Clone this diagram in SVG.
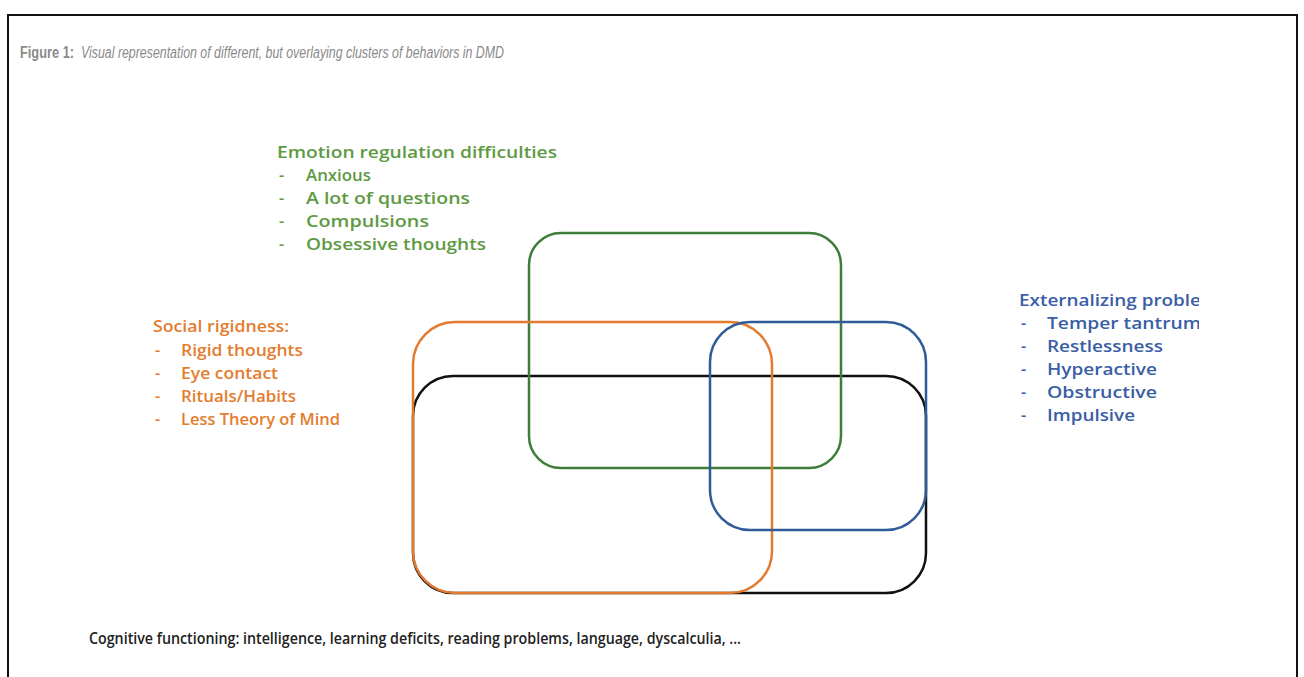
<svg xmlns="http://www.w3.org/2000/svg" width="1304" height="677" viewBox="0 0 1304 677">
<style>
.t{font-family:"Open Sans","Liberation Sans",Arial,sans-serif;font-size:16px;font-weight:600}
.g{fill:#5e9a42}.o{fill:#e47c2e}.b{fill:#3a5ea6}.k{fill:#222}
.box{fill:none;stroke-width:2.5}
.cap{font-family:"Liberation Sans",Arial,sans-serif;font-size:16px;fill:#8a8a8a}
</style>
<defs><clipPath id="cp"><rect x="0" y="0" width="1199" height="677"/></clipPath></defs>
<rect x="0" y="0" width="1304" height="677" fill="#fff"/>
<rect x="8" y="15" width="1289" height="700" fill="none" stroke="#111" stroke-width="2"/>
<g id="caption">
<text class="cap" x="20" y="58" font-weight="bold" textLength="54" lengthAdjust="spacingAndGlyphs">Figure 1:</text>
<text class="cap" x="81" y="58" font-style="italic" textLength="423" lengthAdjust="spacingAndGlyphs">Visual representation of different, but overlaying clusters of behaviors in DMD</text>
</g>
<g id="connectors"></g>
<g id="cognitive">
<rect class="box" x="413" y="376" width="513" height="217" rx="40" stroke="#111"/>
<text class="t k" x="89" y="644" textLength="652" lengthAdjust="spacingAndGlyphs">Cognitive functioning: intelligence, learning deficits, reading problems, language, dyscalculia, ...</text>
</g>
<g id="emotion">
<rect class="box" x="529" y="233" width="312" height="235" rx="32" stroke="#3e7d3a"/>
<text class="t g" x="277" y="158" textLength="280" lengthAdjust="spacingAndGlyphs">Emotion regulation difficulties</text>
<text class="t g" x="279" y="181">-</text><text class="t g" x="306" y="181" textLength="65" lengthAdjust="spacingAndGlyphs">Anxious</text>
<text class="t g" x="279" y="204">-</text><text class="t g" x="306" y="204" textLength="164" lengthAdjust="spacingAndGlyphs">A lot of questions</text>
<text class="t g" x="279" y="227">-</text><text class="t g" x="306" y="227" textLength="123" lengthAdjust="spacingAndGlyphs">Compulsions</text>
<text class="t g" x="279" y="250">-</text><text class="t g" x="306" y="250" textLength="180" lengthAdjust="spacingAndGlyphs">Obsessive thoughts</text>
</g>
<g id="social">
<rect class="box" x="413" y="322" width="359" height="271" rx="42" stroke="#e27a30"/>
<text class="t o" x="153" y="332" textLength="136" lengthAdjust="spacingAndGlyphs">Social rigidness:</text>
<text class="t o" x="155" y="356">-</text><text class="t o" x="181" y="356" textLength="122" lengthAdjust="spacingAndGlyphs">Rigid thoughts</text>
<text class="t o" x="155" y="379">-</text><text class="t o" x="181" y="379" textLength="97" lengthAdjust="spacingAndGlyphs">Eye contact</text>
<text class="t o" x="155" y="402">-</text><text class="t o" x="181" y="402" textLength="115" lengthAdjust="spacingAndGlyphs">Rituals/Habits</text>
<text class="t o" x="155" y="425">-</text><text class="t o" x="181" y="425" textLength="159" lengthAdjust="spacingAndGlyphs">Less Theory of Mind</text>
</g>
<g id="externalizing">
<rect class="box" x="710" y="322" width="216" height="208" rx="40" stroke="#2f5c98"/>
<g clip-path="url(#cp)">
<text class="t b" x="1019" y="306" textLength="182" lengthAdjust="spacingAndGlyphs">Externalizing proble</text>
<text class="t b" x="1021" y="329">-</text><text class="t b" x="1047" y="329" textLength="154" lengthAdjust="spacingAndGlyphs">Temper tantrum</text>
<text class="t b" x="1021" y="352">-</text><text class="t b" x="1047" y="352" textLength="116" lengthAdjust="spacingAndGlyphs">Restlessness</text>
<text class="t b" x="1021" y="375">-</text><text class="t b" x="1047" y="375" textLength="110" lengthAdjust="spacingAndGlyphs">Hyperactive</text>
<text class="t b" x="1021" y="398">-</text><text class="t b" x="1047" y="398" textLength="110" lengthAdjust="spacingAndGlyphs">Obstructive</text>
<text class="t b" x="1021" y="421">-</text><text class="t b" x="1047" y="421" textLength="88" lengthAdjust="spacingAndGlyphs">Impulsive</text>
</g>
</g>
</svg>
